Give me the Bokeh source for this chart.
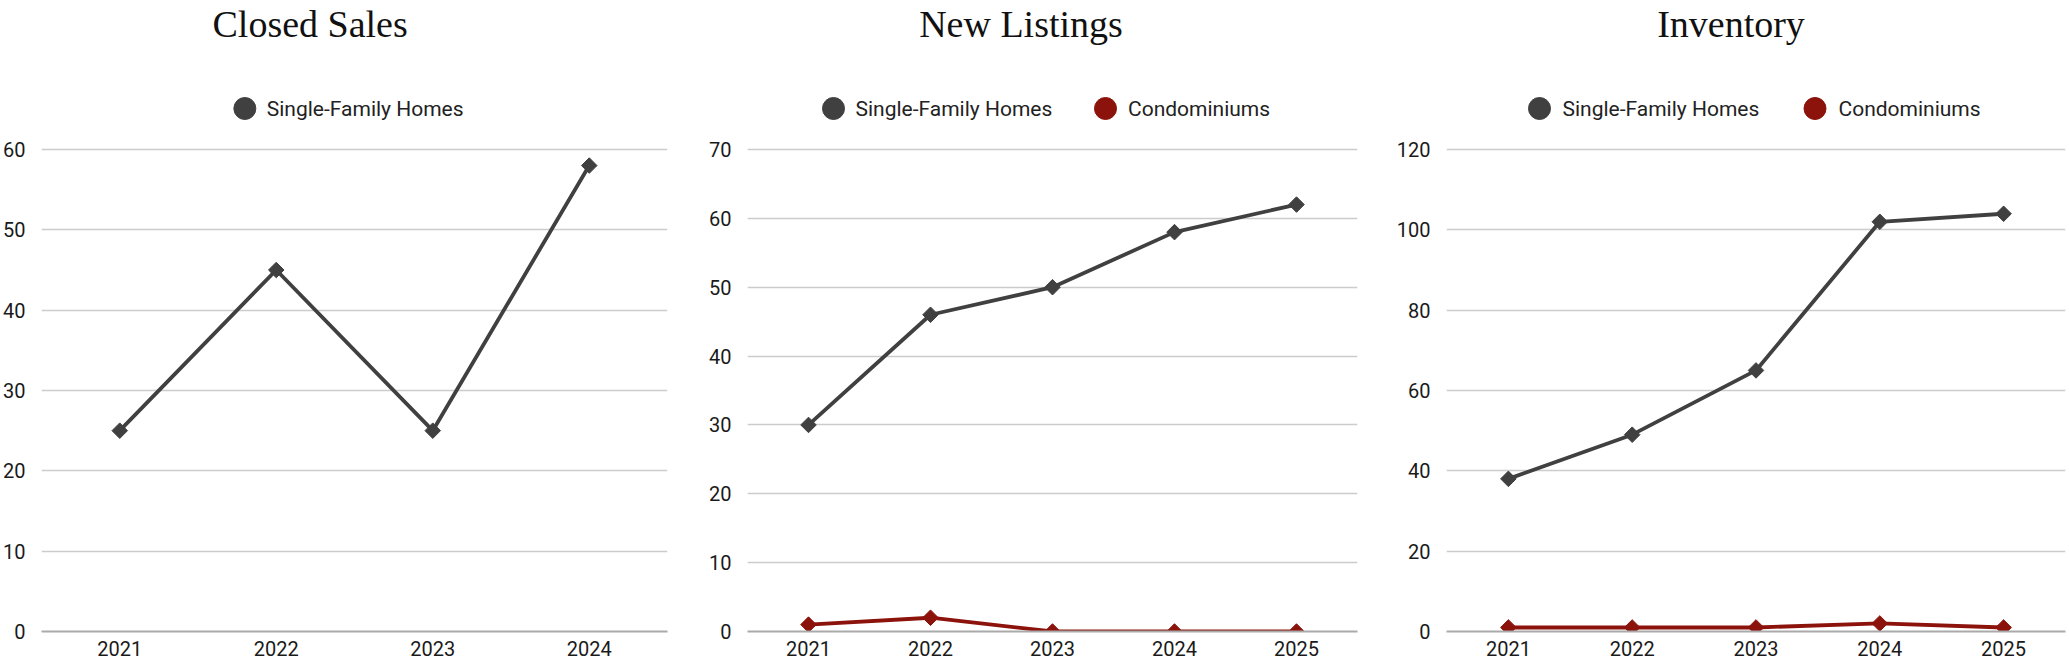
from bokeh.plotting import figure
from bokeh.layouts import row
from bokeh.models import FactorRange, Range1d, FixedTicker
from bokeh.core.properties import value
from bokeh.embed import file_html
from bokeh.resources import INLINE
import math

# ---- data ----
closed_years = ["2021", "2022", "2023", "2024"]
closed_sfh = [25, 45, 25, 58]

new_years = ["2021", "2022", "2023", "2024", "2025"]
new_sfh = [30, 46, 50, 58, 62]
new_condo = [1, 2, 0, 0, 0]

inv_years = ["2021", "2022", "2023", "2024", "2025"]
inv_sfh = [38, 49, 65, 102, 104]
inv_condo = [1, 1, 1, 2, 1]

titles = ["Closed Sales", "New Listings", "Inventory"]
SFH_LABEL = "Single-Family Homes"
CONDO_LABEL = "Condominiums"
SFH_COLOR = "#404040"
CONDO_COLOR = "#8c130c"

# ---- layout (page pixels) ----
H = 665
PAGE_TOP = 0
FRAME_BOTTOM = 631
TOP_GRID = 149
TITLE_MID = 23
LEGEND_MID = 108


def make_panel(title, years, series, ytop, ystep, fig_left, width, bl, br,
               title_center, legend_px):
    frame_left = fig_left + bl
    frame_right = fig_left + width - br
    n = len(years)

    def X(px):
        return (px - frame_left) / (frame_right - frame_left) * n

    def Y(py):
        return ytop * (FRAME_BOTTOM - py) / (FRAME_BOTTOM - TOP_GRID)

    p = figure(x_range=FactorRange(factors=years, range_padding=0),
               y_range=Range1d(0, Y(PAGE_TOP)),
               width=width, height=H, output_backend="svg", toolbar_location=None,
               min_border_left=bl, min_border_right=br, min_border_top=0,
               min_border_bottom=H - (FRAME_BOTTOM - PAGE_TOP))
    p.outline_line_color = None
    p.background_fill_color = "white"
    p.border_fill_color = "white"
    p.xgrid.grid_line_color = None
    p.ygrid.grid_line_color = "#cccccc"
    p.ygrid.grid_line_width = 1.5
    p.yaxis.ticker = FixedTicker(ticks=list(range(0, ytop + 1, ystep)))
    for ax in (p.xaxis, p.yaxis):
        ax.major_tick_line_color = None
        ax.minor_tick_line_color = None
        ax.major_tick_out = 0
        ax.major_tick_in = 0
        ax.major_label_text_font = "Roboto"
        ax.major_label_text_font_size = "20px"
        ax.major_label_text_color = "#1a1a1a"
    p.yaxis.axis_line_color = None
    p.yaxis.major_label_standoff = 16
    p.xaxis.axis_line_color = "#aaaaaa"
    p.xaxis.axis_line_width = 2
    p.xaxis.major_label_standoff = 9

    for (label, vals, color), (cpx, tpx) in zip(series, legend_px):
        p.line(years, vals, line_color=color, line_width=3.8)
        p.scatter(years, vals, marker="square", angle=math.pi / 4, size=11,
                  fill_color=color, line_color=color)
        # legend entry
        p.scatter([X(cpx)], [Y(LEGEND_MID)], marker="circle", size=22,
                  fill_color=color, line_color=color)
        p.text([X(tpx)], [Y(LEGEND_MID)], text=[label],
               text_font=value("Roboto"), text_font_size="21px",
               text_color="#222222", text_baseline="middle", text_align="left")

    p.text([X(title_center)], [Y(TITLE_MID)], text=[title],
           text_font=value("Liberation Serif"), text_font_size="38px",
           text_color="#111111", text_baseline="middle", text_align="center")
    return p


p1 = make_panel(titles[0], closed_years,
                [(SFH_LABEL, closed_sfh, SFH_COLOR)],
                60, 10, 0, 690, 39, 23, 308.5, [(243, 265)])
p2 = make_panel(titles[1], new_years,
                [(SFH_LABEL, new_sfh, SFH_COLOR), (CONDO_LABEL, new_condo, CONDO_COLOR)],
                70, 10, 690, 690, 57, 23, 1020.5, [(833, 855), (1105, 1127.5)])
p3 = make_panel(titles[2], inv_years,
                [(SFH_LABEL, inv_sfh, SFH_COLOR), (CONDO_LABEL, inv_condo, CONDO_COLOR)],
                120, 20, 1380, 689, 66, 4, 1730.5, [(1539, 1562), (1814.5, 1838)])

layout = row(p1, p2, p3)
open("out.html", "w").write(file_html(layout, INLINE))
